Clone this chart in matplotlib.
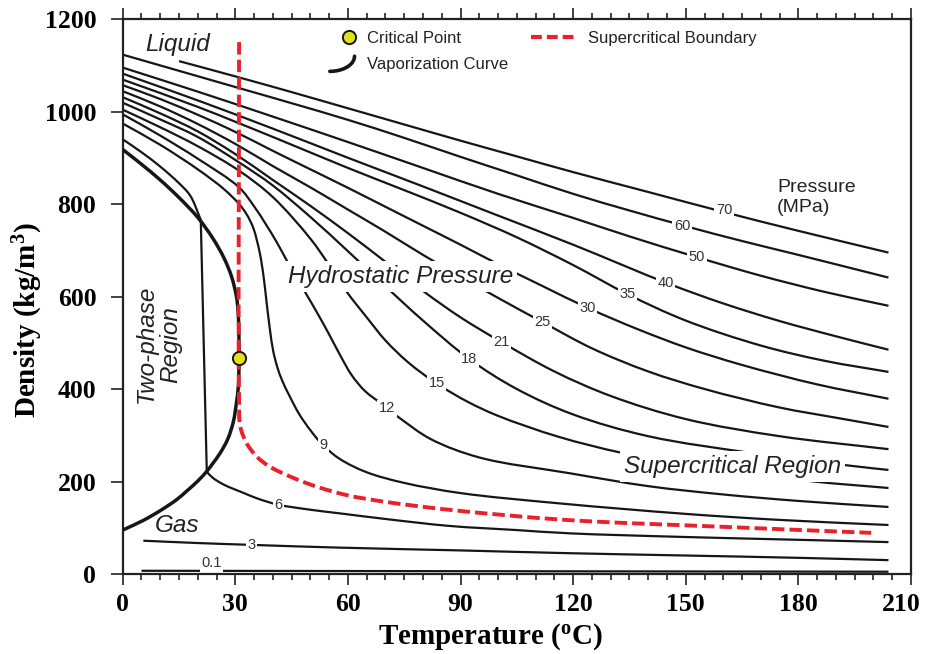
import numpy as np
import matplotlib.pyplot as plt
from matplotlib.legend_handler import HandlerBase
from matplotlib.lines import Line2D
from matplotlib.path import Path
from matplotlib.patches import PathPatch
from matplotlib.transforms import ScaledTranslation

# CO2 isobars: temperature (C) and density (kg/m3)
t70 = [15, 30, 45, 60, 75, 90, 105, 120, 140, 160, 180, 204]
d70 = [1109, 1076, 1042, 1007, 972, 937, 903, 869, 826, 783, 742, 695]
t60 = [0, 15, 30, 45, 60, 75, 90, 105, 120, 135, 150, 165, 180, 204]
d60 = [1123, 1088, 1053, 1018, 982, 943, 902, 862, 822, 786, 752, 720, 690, 641]
t50 = [0, 20, 40, 60, 80, 100, 120, 135, 153, 170, 187, 204]
d50 = [1095, 1043, 989, 934, 878, 822, 770, 730, 685, 645, 610, 580]
t40 = [0, 20, 40, 60, 80, 100, 120, 145, 160, 175, 190, 204]
d40 = [1082, 1024, 963, 900, 838, 775, 712, 629, 585, 547, 514, 485]
t35 = [0, 20, 40, 60, 75, 90, 105, 120, 134.5, 150, 170, 187, 204]
d35 = [1069, 1010, 945, 878, 830, 781, 728, 668, 605, 548, 494, 461, 437]
t30 = [0, 10, 20, 30, 40, 50, 60, 70, 80, 90, 100, 112, 124, 137, 150, 165, 185, 204]
d30 = [1057, 1027, 993, 956, 915, 875, 835, 794, 753, 712, 670, 622, 575, 530, 490, 452, 410, 379]
t25 = [0, 10, 20, 30, 40, 50, 60, 70, 80, 90, 100, 112, 125, 140, 155, 175, 190, 204]
d25 = [1044, 1011, 973, 930, 882, 836, 788, 740, 690, 643, 597, 544, 488, 438, 400, 360, 338, 318]
t21 = [0, 10, 20, 30, 40, 50, 60, 70, 80, 90, 101, 115, 130, 150, 175, 204]
d21 = [1031, 996, 957, 908, 852, 796, 737, 675, 612, 555, 501, 438, 385, 335, 298, 270]
t18 = [0, 10, 20, 31, 40, 50, 60, 70, 80, 92.3, 105, 120, 140, 169, 194, 204]
d18 = [1019, 983, 945, 890, 840, 772, 698, 622, 548, 465, 400, 345, 298, 260, 234, 225]
t15 = [0, 10, 20, 31, 40, 50, 55, 59.7, 65, 70, 76, 83.6, 92, 100, 116, 133, 150, 160, 183, 204]
d15 = [1004, 966, 925, 872, 815, 725, 668, 610, 555, 505, 458, 412, 372, 342, 297, 262, 238, 226, 201, 186]
t12 = [0, 10, 20, 31, 35, 38, 41, 43.7, 46.5, 49, 52, 55, 58, 61, 64.5, 68.6, 70.4, 74, 82, 95, 119, 140, 160, 180, 204]
d12 = [994, 948, 898, 836, 795, 758, 718, 678, 638, 604, 562, 518, 472, 430, 396, 370, 358, 336, 292, 252, 218, 190, 172, 158, 145]
t9 = [0, 10, 20, 27, 31, 33, 34.8, 36.5, 37.5, 38.3, 39.2, 40.1, 41.2, 42.5, 44.5, 47, 49.9, 53.4, 58, 65, 75, 90, 116, 150, 175, 204]
d9 = [974, 928, 875, 832, 800, 778, 748, 695, 645, 590, 530, 482, 447, 418, 384, 346, 312, 278, 248, 220, 197, 175, 153, 130, 117, 106]
t6 = [0, 5, 10, 15, 18, 20.8, 22.4, 24, 27, 32, 36, 41.4, 50, 58, 70, 87, 105, 119, 150, 180, 204]
d6 = [940, 912, 881, 845, 818, 766, 221, 208, 193, 176, 163, 150, 139, 131, 119, 104, 95, 88, 80, 74, 69]
t3 = [5.5, 20, 34.3, 58, 90, 119, 150, 180, 204]
d3 = [72, 67, 63, 57, 51, 45, 40, 35, 30]
t01 = [5, 204]
d01 = [7, 5]

pressures = ['70', '60', '50', '40', '35', '30', '25', '21', '18', '15', '12', '9', '6', '3', '0.1']
temps = [t70, t60, t50, t40, t35, t30, t25, t21, t18, t15, t12, t9, t6, t3, t01]
dens = [d70, d60, d50, d40, d35, d30, d25, d21, d18, d15, d12, d9, d6, d3, d01]
# the 6 MPa isobar has sharp corners where it crosses the two-phase region
corners = {'6': [5, 6]}
# where each pressure label sits on its curve
label_t = [160.2, 149.0, 153.0, 144.6, 134.5, 123.8, 111.8, 100.9, 92.3, 83.6, 70.4, 53.4, 41.4, 34.3, 23.7]
label_d = [787, 753, 685, 629, 605, 575, 544, 501, 465, 412, 358, 278, 150, 63, 23]

# saturation (vaporization) curve, liquid branch then vapor branch
sat_t = [0, 5, 10, 15, 20, 24, 27, 29, 30.3, 30.8, 31.0, 30.8, 30.3, 29.5, 28, 26, 24, 22.4, 20, 17, 14.4, 10, 5.5, 0]
sat_d = [918, 886, 852, 814, 771, 726, 683, 643, 600, 560, 467, 405, 370, 330, 292, 262, 239, 222, 201, 179, 161, 137, 116, 95]

# supercritical boundary
sc_t = [31, 31, 31.3, 33, 35.7, 39.2, 46.3, 52, 60, 70, 88, 118, 160, 199.4]
sc_d = [1150, 380, 320, 283, 254, 232, 205, 188, 170, 156, 138, 117, 102, 89]

crit_t = 31.0
crit_d = 467

plt.rcParams['mathtext.fontset'] = 'custom'
plt.rcParams['mathtext.rm'] = 'Liberation Serif:bold'
plt.rcParams['mathtext.it'] = 'Liberation Serif:bold'
plt.rcParams['mathtext.bf'] = 'Liberation Serif:bold'

SANS = 'Liberation Sans'
SERIF = 'Liberation Serif'
INK = '#161616'
RED = '#e8212b'
YELLOW = '#e0e01c'
# rough data-to-pixel scale, only used to space the spline knots
SCALE = np.array([3.756, 0.462])


def smooth_path(x, y):
    # centripetal Catmull-Rom through the points, as cubic Bezier segments
    P = np.column_stack([x, y]).astype(float)
    n = len(P)
    if n < 3:
        return Path(P)
    ext = np.vstack([2 * P[0] - P[1], P, 2 * P[-1] - P[-2]])
    verts = [P[0]]
    codes = [Path.MOVETO]
    for i in range(1, n):
        p0, p1, p2, p3 = ext[i - 1], ext[i], ext[i + 1], ext[i + 2]
        d0 = max(np.linalg.norm((p1 - p0) * SCALE) ** 0.5, 1e-6)
        d1 = max(np.linalg.norm((p2 - p1) * SCALE) ** 0.5, 1e-6)
        d2 = max(np.linalg.norm((p3 - p2) * SCALE) ** 0.5, 1e-6)
        m1 = (p1 - p0) / d0 - (p2 - p0) / (d0 + d1) + (p2 - p1) / d1
        m2 = (p2 - p1) / d1 - (p3 - p1) / (d1 + d2) + (p3 - p2) / d2
        verts += [p1 + m1 * d1 / 3, p2 - m2 * d1 / 3, p2]
        codes += [Path.CURVE4] * 3
    return Path(verts, codes)


def draw_curve(ax, x, y, breaks=(), **kw):
    cuts = [0] + list(breaks) + [len(x) - 1]
    for a, b in zip(cuts[:-1], cuts[1:]):
        patch = PathPatch(smooth_path(x[a:b + 1], y[a:b + 1]), fill=False,
                          capstyle='butt', **kw)
        ax.add_patch(patch)


class ArcHandler(HandlerBase):
    def create_artists(self, legend, orig_handle, xdescent, ydescent,
                       width, height, fontsize, trans):
        phi = np.linspace(0, np.pi / 2, 25)
        x0 = -xdescent + 0.45 * width
        x1 = -xdescent + 1.02 * width
        y0 = -ydescent - 0.2 * height
        y1 = -ydescent + 1.1 * height
        x = x0 + (x1 - x0) * np.sin(phi)
        y = y1 - (y1 - y0) * np.cos(phi)
        line = Line2D(x, y, color=INK, lw=2.6, solid_capstyle='round')
        line.set_transform(trans)
        return [line]


class DotHandler(HandlerBase):
    def create_artists(self, legend, orig_handle, xdescent, ydescent,
                       width, height, fontsize, trans):
        dot = Line2D([-xdescent + 0.9 * width], [-ydescent + 0.5 * height],
                     marker='o', markersize=9.5, markerfacecolor=YELLOW,
                     markeredgecolor=INK, markeredgewidth=1.4, ls='none')
        dot.set_transform(trans)
        return [dot]


fig = plt.figure(figsize=(9.26, 6.54), dpi=100)
ax = fig.add_axes([0.1325, 0.1223, 0.8513, 0.8486])

for p, t, d in zip(pressures, temps, dens):
    draw_curve(ax, t, d, corners.get(p, ()), edgecolor=INK, lw=1.6, zorder=2)

draw_curve(ax, sat_t, sat_d, edgecolor=INK, lw=2.5, zorder=3)
draw_curve(ax, sc_t, sc_d, edgecolor=RED, lw=2.8, linestyle=(0, (3.2, 1.3)), zorder=4)
ax.plot([crit_t], [crit_d], marker='o', markersize=9.5, markerfacecolor=YELLOW,
        markeredgecolor=INK, markeredgewidth=1.4, ls='none', zorder=6)

box = dict(facecolor='white', edgecolor='none', pad=1.0)
for p, x, y in zip(pressures, label_t, label_d):
    ax.text(x, y, p, fontsize=10.5, family=SANS, color='#333333',
            ha='center', va='center', bbox=box, zorder=5)

big = dict(family=SANS, fontsize=17.5, style='italic', color='#222222')
ax.text(74, 643, 'Hydrostatic Pressure', ha='center', va='center',
        bbox=dict(facecolor='white', edgecolor='none', pad=3), zorder=5, **big)
ax.text(162.5, 233, 'Supercritical Region', ha='center', va='center',
        bbox=dict(facecolor='white', edgecolor='none', pad=3), zorder=5, **big)
ax.text(14.5, 1146, 'Liquid', ha='center', va='center', **big)
ax.text(14.5, 105, 'Gas', ha='center', va='center', **big)
ax.text(9.5, 497, 'Two-phase\nRegion', ha='center', va='center', rotation=90,
        linespacing=1.05, **big)
ax.text(174.3, 814, 'Pressure\n(MPa)', ha='left', va='center', family=SANS,
        fontsize=14, color='#222222', linespacing=1.2)

handles = [Line2D([], [], label='Critical Point'),
           Line2D([], [], label='Vaporization Curve'),
           Line2D([], [], color=RED, lw=3.0, dashes=(2.6, 1.2),
                  label='Supercritical Boundary')]
leg = ax.legend(handles=handles, ncol=2, loc='upper left',
                bbox_to_anchor=(0.238, 0.979), frameon=False,
                handlelength=2.6, handletextpad=0.8, columnspacing=1.4,
                labelspacing=0.68, borderpad=0, borderaxespad=0,
                prop={'family': SANS, 'size': 12},
                handler_map={handles[0]: DotHandler(), handles[1]: ArcHandler()})
for txt in leg.get_texts():
    txt.set_color('#222222')

ax.set_xlim(0, 210)
ax.set_ylim(0, 1200)
ax.set_xticks(np.arange(0, 211, 30))
ax.set_xticks(np.arange(0, 211, 5), minor=True)
ax.set_yticks(np.arange(0, 1201, 200))

for s in ax.spines.values():
    s.set_linewidth(1.6)
    s.set_color('#222222')

ax.tick_params(axis='x', which='both', direction='out', top=True, bottom=True,
               width=1.2, color='#222222')
ax.tick_params(axis='x', which='major', length=8, pad=6)
ax.tick_params(axis='x', which='minor', length=4.5)
ax.tick_params(axis='y', which='major', direction='out', length=9, width=1.2,
               color='#222222', pad=10)

for lab in ax.get_xticklabels() + ax.get_yticklabels():
    lab.set_family(SERIF)
    lab.set_fontweight('bold')
    lab.set_fontsize(18.5)
last = ax.get_xticklabels()[-1]
last.set_transform(last.get_transform() + ScaledTranslation(-7 / 72, 0, fig.dpi_scale_trans))

ax.set_xlabel(r'Temperature ($^{\rm o}$C)', family=SERIF, fontweight='bold', fontsize=21)
ax.set_ylabel(r'Density (kg/m$^{\rm 3}$)', family=SERIF, fontweight='bold', fontsize=21)
ax.xaxis.set_label_coords(0.466, -0.085)
ax.yaxis.set_label_coords(-0.099, 0.458)

fig.savefig('out.png', dpi=100)
